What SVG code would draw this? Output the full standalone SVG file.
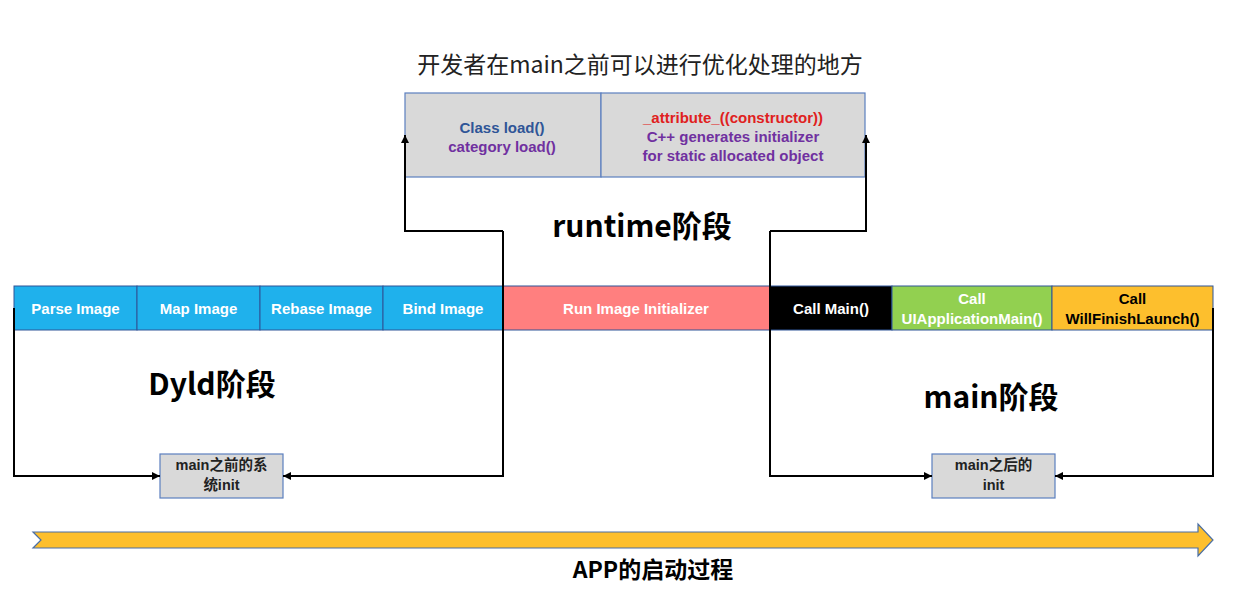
<svg xmlns="http://www.w3.org/2000/svg" width="1240" height="615" viewBox="0 0 1240 615">
<defs>
<marker id="ah" viewBox="0 0 10 10" refX="10" refY="5" markerWidth="9" markerHeight="8" markerUnits="userSpaceOnUse" orient="auto">
<path d="M0,0 L10,5 L0,10 z" fill="#000"/>
</marker>
</defs>
<style>
text{font-family:"Liberation Sans","Noto Sans CJK SC",sans-serif;text-anchor:middle;dominant-baseline:central}
.bar{stroke:#2f5597;stroke-width:1}
.lbl{font-size:15px;font-weight:bold;fill:#fff}
.dark{fill:#000}
.gbox{fill:#d9d9d9;stroke:#5b7fbf;stroke-width:1.2}
.gt{font-size:14.5px;font-weight:bold;fill:#222}
.stage{font-family:"Noto Sans CJK SC","Liberation Sans",sans-serif;font-size:30px;font-weight:bold;fill:#000}
.conn{fill:none;stroke:#000;stroke-width:2;marker-end:url(#ah)}
.tt{font-size:15px;font-weight:bold}
</style>
<rect width="1240" height="615" fill="#fff"/>

<text x="640" y="63" style="font-family:'Noto Sans CJK SC','Liberation Sans',sans-serif;font-size:23px;fill:#222">开发者在main之前可以进行优化处理的地方</text>

<g id="top-left">
<rect class="gbox" x="405" y="93" width="196" height="84"/>
<text class="tt" x="502" y="127" fill="#2f5597">Class load()</text>
<text class="tt" x="502" y="146" fill="#7030a0">category load()</text>
</g>
<g id="top-right">
<rect class="gbox" x="601" y="93" width="264" height="84"/>
<text class="tt" x="733" y="117" fill="#e02020">_attribute_((constructor))</text>
<text class="tt" x="733" y="136" fill="#7030a0">C++ generates initializer</text>
<text class="tt" x="733" y="155" fill="#7030a0">for static allocated object</text>
</g>

<text class="stage" x="642" y="224">runtime阶段</text>
<text class="stage" x="212" y="382">Dyld阶段</text>
<text class="stage" x="991" y="395">main阶段</text>

<g id="parse"><rect class="bar" x="14" y="286" width="123" height="44" fill="#1fb1ec"/><text class="lbl" x="75.5" y="308">Parse Image</text></g>
<g id="map"><rect class="bar" x="137" y="286" width="123" height="44" fill="#1fb1ec"/><text class="lbl" x="198.5" y="308">Map Image</text></g>
<g id="rebase"><rect class="bar" x="260" y="286" width="123" height="44" fill="#1fb1ec"/><text class="lbl" x="321.5" y="308">Rebase Image</text></g>
<g id="bind"><rect class="bar" x="383" y="286" width="120" height="44" fill="#1fb1ec"/><text class="lbl" x="443" y="308">Bind Image</text></g>
<g id="run"><rect class="bar" x="503" y="286" width="267" height="44" fill="#ff7f7f"/><text class="lbl" x="636" y="308">Run Image Initializer</text></g>
<g id="callmain"><rect class="bar" x="770" y="286" width="122" height="44" fill="#000"/><text class="lbl" x="831" y="308">Call Main()</text></g>
<g id="uiapp"><rect class="bar" x="892" y="286" width="160" height="44" fill="#92d050"/><text class="lbl" x="972" y="298">Call</text><text class="lbl" x="972" y="318">UIApplicationMain()</text></g>
<g id="willfinish"><rect class="bar" x="1052" y="286" width="161" height="44" fill="#fdbf2d"/><text class="lbl dark" x="1132.5" y="298">Call</text><text class="lbl dark" x="1132.5" y="318">WillFinishLaunch()</text></g>

<g id="sysinit"><rect class="gbox" x="160" y="454" width="123" height="44"/><text class="gt" x="221.5" y="465">main之前的系</text><text class="gt" x="221.5" y="485">统init</text></g>
<g id="mainafter"><rect class="gbox" x="932" y="454" width="123" height="44"/><text class="gt" x="993.5" y="465">main之后的</text><text class="gt" x="993.5" y="485">init</text></g>

<g id="connectors">
<path class="conn" d="M14,308 V476 H160"/>
<path class="conn" d="M503,231 V476 H283"/>
<path class="conn" d="M503,231 H405 V135"/>
<path class="conn" d="M770,231 H866 V135"/>
<path class="conn" d="M770,231 V476 H932"/>
<path class="conn" d="M1213,308 V476 H1055"/>
</g>

<g id="timeline">
<path d="M33,532 H1198 V524 L1213,540 L1198,556 V548 H33 L41,540 Z" fill="#fdbf2d" stroke="#4a6fa5" stroke-width="1.2"/>
<text x="653" y="568" style="font-family:'Noto Sans CJK SC','Liberation Sans',sans-serif;font-size:23px;font-weight:bold;fill:#000">APP的启动过程</text>
</g>
</svg>
